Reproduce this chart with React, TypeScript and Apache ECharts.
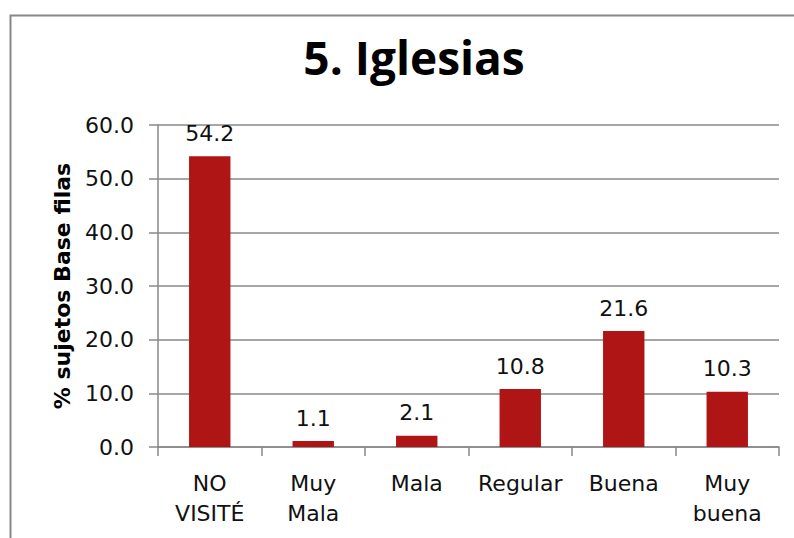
import React, { useEffect, useRef } from "react";
import * as echarts from "echarts";

const categories = ["NO\nVISITÉ", "Muy\nMala", "Mala", "Regular", "Buena", "Muy\nbuena"];
const values = [54.2, 1.1, 2.1, 10.8, 21.6, 10.3];
const titleText = "5. Iglesias";
const yAxisName = "% sujetos Base filas";

const FONT = "'DejaVu Sans', sans-serif";

export default function App() {
  const ref = useRef<HTMLDivElement>(null);
  useEffect(() => {
    if (!ref.current) return;
    const chart = echarts.init(ref.current, undefined, { renderer: "svg" });
    chart.setOption({
      animation: false,
      backgroundColor: "#ffffff",
      title: {
        text: titleText,
        left: 409,
        top: 29,
        textAlign: "center",
        textStyle: { fontFamily: "'Open Sans', sans-serif", fontSize: 46, fontWeight: "bold", color: "#000" },
      },
      graphic: [
        {
          type: "rect",
          left: 8,
          top: 13,
          shape: { width: 820, height: 600 },
          style: { fill: "none", stroke: "#878787", lineWidth: 2 },
          silent: true,
        },
      ],
      grid: { left: 158, right: 15, top: 125, bottom: 91, containLabel: false },
      xAxis: {
        type: "category",
        data: categories,
        axisLine: { show: true, lineStyle: { color: "#888", width: 1.5 } },
        axisTick: { show: true, length: 9, lineStyle: { color: "#888", width: 1.5 } },
        axisLabel: {
          interval: 0,
          margin: 21,
          fontFamily: FONT,
          fontSize: 22,
          lineHeight: 30,
          color: "#111",
          align: "center",
        },
      },
      yAxis: {
        type: "value",
        min: 0,
        max: 60,
        interval: 10,
        name: yAxisName,
        nameLocation: "middle",
        nameGap: 85,
        nameTextStyle: { fontFamily: FONT, fontSize: 22, fontWeight: "bold", color: "#000" },
        axisLine: { show: true, lineStyle: { color: "#888", width: 1.5 } },
        axisTick: { show: true, length: 9, lineStyle: { color: "#888", width: 1.5 } },
        axisLabel: {
          margin: 24,
          fontFamily: FONT,
          fontSize: 22,
          color: "#111",
          formatter: (v: number) => v.toFixed(1),
        },
        splitLine: { show: true, lineStyle: { color: "#888", width: 1.5 } },
      },
      series: [
        {
          type: "bar",
          data: values,
          barWidth: "40%",
          itemStyle: { color: "#AF1515" },
          label: {
            show: true,
            position: "top",
            distance: 12,
            fontFamily: FONT,
            fontSize: 22,
            color: "#111",
            formatter: (p: any) => Number(p.value).toFixed(1),
          },
        },
      ],
    });
    return () => chart.dispose();
  }, []);
  return (
    <div
      ref={ref}
      style={{ position: "fixed", left: 0, top: 0, width: 794, height: 538 }}
    />
  );
}
